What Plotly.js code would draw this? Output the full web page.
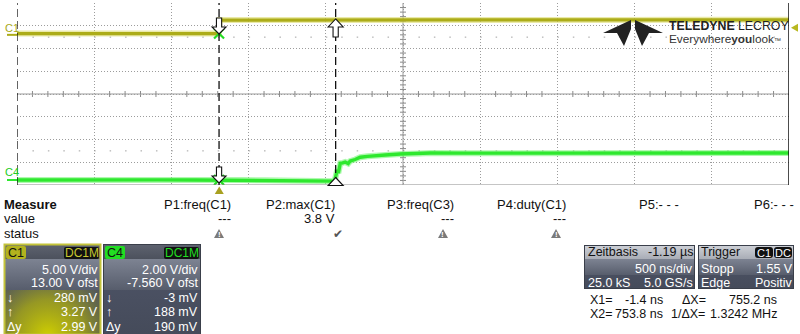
<!DOCTYPE html>
<html><head><meta charset="utf-8">
<script src="https://cdn.plot.ly/plotly-3.0.1.min.js"></script>
<style>html,body{margin:0;padding:0;background:#fff;overflow:hidden}#chart{width:800px;height:334px}</style>
</head><body><div id="chart"></div>
<script>
// ---------------- data ----------------
const c1Time  = [-1310, -1050, -800, -550, -300, -120, -3, 3, 150, 400, 700, 1000, 1400, 1800, 2200, 2600, 3000, 3400, 3690];
const c1Volts = [0.28, 0.29, 0.27, 0.29, 0.28, 0.29, 0.28, 3.25, 3.27, 3.28, 3.27, 3.29, 3.28, 3.29, 3.30, 3.29, 3.30, 3.30, 3.30];
const c4Time  = [-1310, -1000, -700, -400, -150, 0, 150, 300, 450, 600, 700, 745, 752, 764, 771, 784, 800, 816, 835, 848, 880, 913, 960, 1010, 1075, 1172, 1302, 1367, 1600, 2000, 2500, 3000, 3690];
const c4Volts = [0.00, 0.02, 0.00, 0.01, 0.00, -0.01, -0.01, -0.03, -0.06, -0.09, -0.11, -0.10, 0.19, 0.88, 0.61, 1.47, 1.50, 1.58, 1.45, 1.67, 1.80, 2.00, 2.08, 2.15, 2.20, 2.28, 2.33, 2.37, 2.36, 2.37, 2.37, 2.38, 2.37];
const cursorTimes = [-1.4, 753.8];          // X1, X2 in ns
const c1AtX1 = 0.28, c4AtX1 = -0.003;       // cursor readings at X1 (V)
const triggerLevel = 1.55;                 // V on C1
const triggerTime = 0;                     // ns

const measureHeads  = ['P1:freq(C1)', 'P2:max(C1)', 'P3:freq(C3)', 'P4:duty(C1)', 'P5:- - -', 'P6:- - -'];
const measureValues = ['---', '3.8 V', '---', '---', '', ''];
const measureStatus = ['warn', 'ok', 'warn', 'warn', '', ''];

const c1PanelRows = ['5.00 V/div', '13.00 V ofst', '280 mV', '3.27 V', '2.99 V'];
const c4PanelRows = ['2.00 V/div', '-7.560 V ofst', '-3 mV', '188 mV', '190 mV'];
const cursorSymbols = ['\u2193', '\u2191', '\u0394y'];
const timebaseRows = [['Zeitbasis', '-1.19 \u00b5s'], ['', '500 ns/div'], ['25.0 kS', '5.0 GS/s']];
const triggerRows  = [['Trigger', ''], ['Stopp', '1.55 V'], ['Edge', 'Positiv']];
const cursorInfo   = [['X1=', '-1.4 ns', '\u0394X=', '755.2 ns'], ['X2=', '753.8 ns', '1/\u0394X=', '1.3242 MHz']];

// ---------------- scope settings ----------------
const T0 = -1310, NS_PER_DIV = 500, NDIVX = 10, NDIVY = 8;
const T1 = T0 + NS_PER_DIV * NDIVX;
const c1Scale = 5.00, c1Ofst = 13.00;
const c4Scale = 2.00, c4Ofst = -7.560;
const toDivC1 = v => (v + c1Ofst) / c1Scale;
const toDivC4 = v => (v + c4Ofst) / c4Scale;

// layout geometry (pixels)
const L = 17, R = 789, TOP = 3, BOT = 185;
const PW = R - L, PH = BOT - TOP;
const PX = p => (p - L) / PW;
const PY = p => (BOT - p) / PH;
const tPix = t => L + (t - T0) / (T1 - T0) * PW;
const dPix = d => BOT - (d + NDIVY / 2) / NDIVY * PH;

const C1COL = '#acac18', C4COL = '#2ee82e';
const FONT = 'Liberation Sans, Arial, sans-serif';

const traces = [
  {x: c1Time, y: c1Volts.map(toDivC1), mode: 'lines', line: {color: 'rgba(220,220,110,0.6)', width: 6}, hoverinfo: 'skip'},
  {x: c1Time, y: c1Volts.map(toDivC1), mode: 'lines', line: {color: C1COL, width: 3.2}, name: 'C1'},
  {x: c4Time, y: c4Volts.map(toDivC4), mode: 'lines', line: {color: 'rgba(120,245,120,0.6)', width: 6}, hoverinfo: 'skip'},
  {x: c4Time, y: c4Volts.map(toDivC4), mode: 'lines', line: {color: C4COL, width: 3.4}, name: 'C4'},
  {x: [cursorTimes[0], cursorTimes[0]], y: [toDivC1(c1AtX1), toDivC4(c4AtX1)], mode: 'markers',
   marker: {symbol: 'x-thin', size: 10, line: {color: '#22dd22', width: 2.2}}, hoverinfo: 'skip'}
];

const shapes = [];
const path = (pts, fill, color, width, layer) => shapes.push({type: 'path', xref: 'paper', yref: 'paper',
  path: 'M' + pts.map(p => PX(p[0]).toFixed(5) + ',' + PY(p[1]).toFixed(5)).join('L') + 'Z',
  fillcolor: fill, line: {color: color || fill, width: width === undefined ? 0 : width}, layer: layer || 'above'});

// center graticule lines with minor ticks
const tc = T0 + NS_PER_DIV * NDIVX / 2;
shapes.push({type: 'line', xref: 'x', yref: 'y', x0: T0, x1: T1, y0: 0, y1: 0, line: {color: '#9a9a9a', width: 1}, layer: 'below'});
shapes.push({type: 'line', xref: 'x', yref: 'y', x0: tc, x1: tc, y0: -4, y1: 4, line: {color: '#9a9a9a', width: 1}, layer: 'below'});
const tickH = 3 / (PH / NDIVY), tickW = 3 / (PW / NDIVX) * NS_PER_DIV;
for (let i = 1; i < NDIVX * 5; i++) {
  if (i % 5 === 0) continue;
  const t = T0 + i * NS_PER_DIV / 5;
  shapes.push({type: 'line', xref: 'x', yref: 'y', x0: t, x1: t, y0: -tickH, y1: tickH, line: {color: '#8a8a8a', width: 1}, layer: 'below'});
}
for (let i = 1; i < NDIVY * 5; i++) {
  if (i % 5 === 0) continue;
  const d = -4 + i / 5;
  shapes.push({type: 'line', xref: 'x', yref: 'y', x0: tc - tickW, x1: tc + tickW, y0: d, y1: d, line: {color: '#8a8a8a', width: 1}, layer: 'below'});
}
// sparse dot rows at +-2.5 div
[2.5, -2.5].forEach(d => shapes.push({type: 'line', xref: 'x', yref: 'y', x0: T0 + NS_PER_DIV / 5, x1: T1, y0: d, y1: d,
  line: {color: '#a0a0a0', width: 1, dash: '1.5px,13.94px'}, layer: 'below'}));
// frame
shapes.push({type: 'line', xref: 'x', yref: 'y', x0: T0, x1: T1, y0: -4, y1: -4, line: {color: '#8c8c8c', width: 1.2}, layer: 'above'});
shapes.push({type: 'line', xref: 'x', yref: 'y', x0: T1, x1: T1, y0: -4, y1: 4, line: {color: '#111', width: 1.5}, layer: 'above'});
shapes.push({type: 'line', xref: 'x', yref: 'y', x0: T0, x1: T0, y0: -4, y1: 4, line: {color: '#111', width: 1.3, dash: '8px,4px'}, layer: 'above'});
// cursors
cursorTimes.forEach(t => shapes.push({type: 'line', xref: 'x', yref: 'y', x0: t, x1: t, y0: -4, y1: 4, line: {color: '#111', width: 1.3, dash: '8px,4px'}, layer: 'above'}));

// cursor arrows (hollow)
function downArrow(cx, y0) {
  path([[cx - 2.6, y0], [cx + 2.6, y0], [cx + 2.6, y0 + 9], [cx + 7, y0 + 9], [cx, y0 + 16], [cx - 7, y0 + 9], [cx - 2.6, y0 + 9]], '#ffffff', '#111', 1.1);
}
function upArrow(cx, tip, bottom) {
  const pts = [[cx, tip], [cx + 7.5, tip + 8], [cx + 2.6, tip + 8]];
  if (bottom > tip + 8) { pts.push([cx + 2.6, bottom], [cx - 2.6, bottom]); }
  pts.push([cx - 2.6, tip + 8], [cx - 7.5, tip + 8]);
  path(pts, '#ffffff', '#111', 1.1);
}
const x1p = tPix(cursorTimes[0]), x2p = tPix(cursorTimes[1]);
downArrow(x1p, 18);
downArrow(x1p, 167);
upArrow(x2p, dPix(toDivC1(3.27)) - 1, 37);
upArrow(x2p, 177.5, 185);

// channel ground markers at left
const g1 = dPix(toDivC1(0)), g4 = dPix(toDivC4(0));
path([[7, g1 - 1], [L, g1 - 1], [L, g1 + 1], [7, g1 + 1]], C1COL);
path([[7, g4 - 1], [L, g4 - 1], [L, g4 + 1], [7, g4 + 1]], C4COL);
// trigger markers
const tl = dPix(toDivC1(triggerLevel));
path([[791, tl], [798, tl - 4], [798, tl + 4]], '#b8b820');
const tt = tPix(triggerTime);
path([[tt, 186.5], [tt + 4.5, 194], [tt - 4.5, 194]], '#a8a020');

// Teledyne logo icon
path([[603, 33], [631, 20], [631, 29], [624, 46], [617, 33]], '#222');
path([[663, 33], [635, 20], [635, 29], [642, 46], [649, 33]], '#222');

// status icons
const colX = [219, 338, 443, 556];
measureStatus.forEach((s, i) => {
  if (s === 'warn') path([[colX[i], 229], [colX[i] + 5, 238], [colX[i] - 5, 238]], '#7a7a7a');
});

// ---------------- panel backgrounds (gradients) as an svg image ----------------
const svg = `<svg xmlns="http://www.w3.org/2000/svg" width="800" height="334" viewBox="0 0 800 334">
<defs>
<linearGradient id="hd" x1="0" y1="0" x2="0" y2="1"><stop offset="0" stop-color="#5e6370"/><stop offset="1" stop-color="#4c515d"/></linearGradient>
<linearGradient id="md" x1="0" y1="0" x2="0" y2="1"><stop offset="0" stop-color="#7d8392"/><stop offset="1" stop-color="#575d6c"/></linearGradient>
<linearGradient id="lo" x1="0" y1="0" x2="0" y2="1"><stop offset="0" stop-color="#50566a"/><stop offset="1" stop-color="#454b5a"/></linearGradient>
<linearGradient id="lh" x1="0" y1="0" x2="0" y2="1"><stop offset="0" stop-color="#cfd2d8"/><stop offset="1" stop-color="#a9adb6"/></linearGradient>
<radialGradient id="glow" cx="48" cy="336" r="72" gradientUnits="userSpaceOnUse"><stop offset="0" stop-color="#d0d000" stop-opacity="1"/><stop offset="0.5" stop-color="#b0b010" stop-opacity="0.75"/><stop offset="1" stop-color="#9a9a20" stop-opacity="0"/></radialGradient>
</defs>
<g>
<rect x="4" y="244" width="97" height="90" fill="url(#lo)"/>
<rect x="4" y="244" width="97" height="15" fill="url(#hd)"/>
<rect x="4" y="259" width="97" height="31" fill="url(#md)"/>
<rect x="4" y="290" width="97" height="44" fill="url(#glow)"/>
<rect x="4.5" y="244.5" width="96" height="90" fill="none" stroke="#c4c43a" stroke-width="2"/>
<rect x="6" y="246" width="20" height="13" rx="2" fill="#b2b21e"/>
<rect x="64" y="247" width="35" height="12" rx="2" fill="#111"/>
</g>
<g>
<rect x="103" y="244" width="98" height="90" fill="url(#lo)"/>
<rect x="103" y="244" width="98" height="15" fill="url(#hd)"/>
<rect x="103" y="259" width="98" height="31" fill="url(#md)"/>
<rect x="103.5" y="244.5" width="97" height="90" fill="none" stroke="#3a3f4a" stroke-width="1"/>
<rect x="105" y="246" width="20" height="13" rx="2" fill="#22dd22"/>
<rect x="164" y="247" width="35" height="12" rx="2" fill="#111"/>
</g>
<g>
<rect x="584" y="245" width="111" height="44" fill="url(#lo)"/>
<rect x="584" y="259" width="111" height="16" fill="url(#md)"/>
<rect x="584" y="245" width="111" height="14" fill="url(#lh)"/>
<rect x="584.5" y="245.5" width="110" height="43" fill="none" stroke="#3a3f4a" stroke-width="1"/>
</g>
<g>
<rect x="698" y="245" width="96" height="44" fill="url(#lo)"/>
<rect x="698" y="259" width="96" height="16" fill="url(#md)"/>
<rect x="698" y="245" width="96" height="14" fill="url(#lh)"/>
<rect x="698.5" y="245.5" width="95" height="43" fill="none" stroke="#3a3f4a" stroke-width="1"/>
<rect x="755" y="247" width="18" height="11" rx="3" fill="#111"/>
<rect x="774" y="247" width="18" height="11" rx="3" fill="#111"/>
</g>
</svg>`;
const images = [{source: 'data:image/svg+xml;charset=utf-8,' + encodeURIComponent(svg), xref: 'paper', yref: 'paper',
  x: PX(0), y: PY(0), sizex: 800 / PW, sizey: 334 / PH, xanchor: 'left', yanchor: 'top', sizing: 'stretch', layer: 'below'}];

// ---------------- texts ----------------
const annotations = [];
const A = (text, px, py, anchor, size, color, extra) => annotations.push(Object.assign({
  text, x: PX(px), y: PY(py), xref: 'paper', yref: 'paper', xanchor: anchor || 'left', yanchor: 'middle',
  showarrow: false, borderpad: 0, font: {family: FONT, size: size || 13, color: color || '#111'}}, extra || {}));

// channel labels
A('C1', 4, 28, 'left', 11, '#a8a818');
A('C4', 4, 172, 'left', 11, '#22cc22');
// logo
A('<b>TELEDYNE</b> LECROY', 668, 26, 'left', 12.3, '#222');
A('Everywhere<b>you</b>look<span style="font-size:7px">\u2122</span>', 668, 39.5, 'left', 11.8, '#333');

// measure table
A('<b>Measure</b>', 3, 204, 'left', 13);
A('value', 3, 218, 'left', 13);
A('status', 3, 233, 'left', 13);
const headRight = [232, 336, 455, 567, 680, 795];
measureHeads.forEach((h, i) => A(h, headRight[i], 204, 'right', 13));
measureValues.forEach((v, i) => { if (v) A(v, headRight[i], 218, 'right', 13); });
measureStatus.forEach((s, i) => {
  if (s === 'warn') A('<b>!</b>', colX[i], 234.5, 'center', 8, '#fff');
  if (s === 'ok') A('\u2714', colX[i], 234, 'center', 12, '#555');
});

// channel panels
A('C1', 16, 253, 'center', 12.5, '#111');
A('DC1M', 81.5, 253, 'center', 12, '#c8c830');
A('C4', 115, 253, 'center', 12.5, '#111');
A('DC1M', 181.5, 253, 'center', 12, '#22dd22');
const rowY = [270, 283, 298, 312, 327];
c1PanelRows.forEach((t, i) => A(t, 99, rowY[i], 'right', 12.5, '#fff'));
c4PanelRows.forEach((t, i) => A(t, 199, rowY[i], 'right', 12.5, '#fff'));
cursorSymbols.forEach((s, i) => { A(s, 6, rowY[i + 2], 'left', 12.5, '#fff'); A(s, 105, rowY[i + 2], 'left', 12.5, '#fff'); });

// timebase / trigger
const tbY = [252, 269, 283];
timebaseRows.forEach((r, i) => {
  const c = i === 0 ? '#111' : '#fff';
  if (r[0]) A(r[0], 587, tbY[i], 'left', 12.5, c);
  if (r[1]) A(r[1], 694, tbY[i], 'right', 12.5, c);
});
triggerRows.forEach((r, i) => {
  const c = i === 0 ? '#111' : '#fff';
  if (r[0]) A(r[0], 700, tbY[i], 'left', 12.5, c);
  if (r[1]) A(r[1], 794, tbY[i], 'right', 12.5, c);
});
A('C1', 764, 252.5, 'center', 11, '#fff');
A('DC', 783, 252.5, 'center', 11, '#fff');
// cursor info
const ciY = [300, 314];
cursorInfo.forEach((r, i) => {
  A(r[0], 589, ciY[i], 'left', 12.5);
  A(r[1], 664, ciY[i], 'right', 12.5);
  A(r[2], i === 0 ? 681 : 670, ciY[i], 'left', 12.5);
  A(r[3], 778, ciY[i], 'right', 12.5);
});

const layout = {
  width: 800, height: 334,
  margin: {l: L, r: 800 - R, t: TOP, b: 334 - BOT, pad: 0},
  paper_bgcolor: '#ffffff', plot_bgcolor: 'rgba(0,0,0,0)',
  showlegend: false,
  xaxis: {range: [T0, T1], tick0: T0, dtick: NS_PER_DIV, showticklabels: false, ticks: '', zeroline: false,
    showgrid: true, gridcolor: '#9c9c9c', griddash: '1px,2px', gridwidth: 1, showline: false, fixedrange: true},
  yaxis: {range: [-NDIVY / 2, NDIVY / 2], tick0: -NDIVY / 2, dtick: 1, showticklabels: false, ticks: '', zeroline: false,
    showgrid: true, gridcolor: '#9c9c9c', griddash: '1px,2px', gridwidth: 1, showline: false, fixedrange: true},
  shapes, annotations, images
};
Plotly.newPlot('chart', traces, layout, {displayModeBar: false, staticPlot: true});
</script>
</body></html>
